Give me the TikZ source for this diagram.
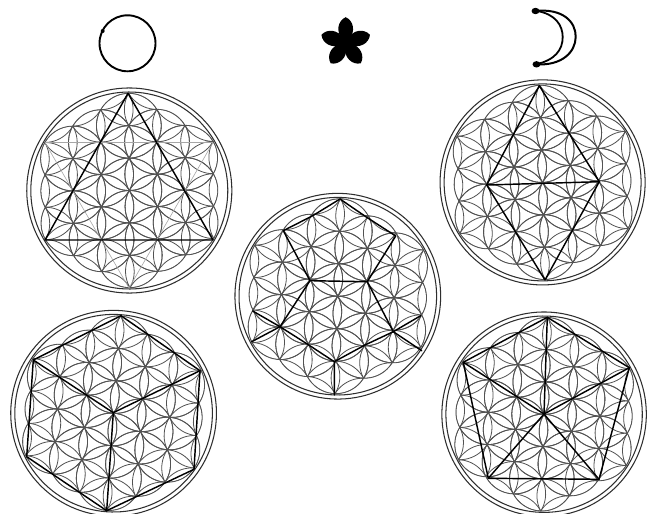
\documentclass[tikz,border=0pt]{standalone}
\definecolor{pat}{gray}{0.32}
\definecolor{ring}{gray}{0.18}
\tikzset{
  patline/.style={draw=pat,line width=0.8pt},
  ringline/.style={draw=ring,line width=1.05pt},
  solid figure/.style={draw=black,line width=1.45pt,line join=round,line cap=round},
  faintline/.style={draw=black!35,line width=0.6pt},
  moonline/.style={draw=black,line width=2pt,line cap=round}
}
% centre x, centre y, clockwise tilt (deg), lattice radius (pt)
\newcommand{\flowerfig}[4]{%
  \begin{scope}[shift={(#1,#2)},rotate=-#3]
    \begin{scope}
      \clip (0,0) circle[radius=#4pt]
        foreach \a in {30,90,...,330}{ (\a:#4pt) circle[radius=#4pt] (\a:2*#4pt) circle[radius=#4pt] }
        foreach \a in {0,60,...,300}{ (\a:1.73205*#4pt) circle[radius=#4pt] };
      \foreach \i in {-4,...,4}{
        \foreach \j in {-4,...,4}{
          \pgfmathtruncatemacro{\hexring}{max(abs(\i),abs(\j),abs(\i+\j))}
          \ifnum\hexring>4\relax\else
            \draw[patline] ({0.866025*\i*#4pt},{(0.5*\i+\j)*#4pt}) circle[radius=#4pt];
          \fi
        }
      }
    \end{scope}
    \draw[patline] (0,0) circle[radius=#4pt];
    \foreach \a in {30,90,...,330}{
      \draw[patline] (\a:#4pt) circle[radius=#4pt];
      \draw[patline] (\a:2*#4pt) circle[radius=#4pt];
    }
    \foreach \a in {0,60,...,300}{
      \draw[patline] (\a:1.73205*#4pt) circle[radius=#4pt];
    }
    \draw[ringline] (0,0) circle[radius=3.165*#4pt];
    \draw[ringline] (0,0) circle[radius=3.04*#4pt];
  \end{scope}%
}
\begin{document}
\begin{tikzpicture}[x=1pt,y=-1pt]
\useasboundingbox (0,0) rectangle (651,514);
\clip (0,0) rectangle (651,514);
\fill[white] (0,0) rectangle (651,514);

% top symbols
\draw[moonline,line width=1.9pt] (127.5,43.3) circle[radius=28pt];
\fill (102.7,31) circle[radius=2pt];
\begin{scope}[shift={(345.7,42.7)}]
  \foreach \a in {0,72,144,216,288}{
    \fill[black,rotate=\a] (-3.5,-4) .. controls (-10,-11) and (-8,-22) .. (0,-25.5)
      .. controls (8,-22) and (10,-11) .. (3.5,-4) -- cycle;
  }
  \fill[black] (0,0) circle[radius=9.5pt];
\end{scope}
\draw[moonline] (535,11) .. controls (563,8) and (576,22) .. (575.7,37) .. controls (575.5,52) and (562,66) .. (536,64.3);
\draw[moonline,line width=1.8pt] (537,11) .. controls (555,14) and (562.7,25) .. (562.7,37) .. controls (562.7,50) and (555,60) .. (536,64.3);
\fill (535.5,11) ellipse[x radius=4pt,y radius=3.2pt];
\fill (536.5,64.3) ellipse[x radius=4pt,y radius=3.2pt];

% A: triangle
\flowerfig{129.3}{190.5}{-0.4}{32.4}
\draw[faintline,line width=0.9pt] (45,142.5) -- (213,142.5);
\draw[faintline] (45,142.5) -- (129,288) -- (213,142.5);
\draw[solid figure] (128,93.3) -- (45,240) -- (213,240) -- cycle;

% E: two triangles
\flowerfig{542.6}{182.4}{-1.67}{32.4}
\draw[solid figure] (539.3,85.7) -- (486.7,185) -- (545,280) -- (599.3,181.7) -- cycle;
\draw[solid figure] (486.7,185) -- (599.3,181.7);

% B: net of five
\flowerfig{337.8}{296.2}{1.65}{32.5}
\draw[solid figure] (340,199) -- (312.7,215.7) -- (283.3,230.7) -- (310,280.7) -- (367.3,281.7) -- (395.7,236) -- (366.7,217.3) -- cycle;
\draw[solid figure] (310,280.7) -- (280,326.7) -- (251.7,341.7);
\draw[solid figure] (252.7,311) -- (280,326.7) -- (307.7,344.3) -- (334.3,361.7) -- (334.3,395);
\draw[solid figure] (334.3,361.7) -- (365,345) -- (393.3,331.7) -- (420.7,315.7);
\draw[solid figure] (367.3,281.7) -- (393.3,331.7) -- (421.7,350.7);

% C: cube
\flowerfig{113.6}{413.2}{4.2}{32.5}
\draw[solid figure] (121,315.7) -- (33.3,360) -- (26.7,456.7) -- (106.7,510.7) -- (194,469.3) -- (200,370.7) -- cycle;
\draw[solid figure] (33.3,360) -- (113.3,412.7) -- (200,370.7);
\draw[solid figure] (113.3,412.7) -- (106.7,510.7);

% D: pentagon
\flowerfig{544.1}{414.2}{2}{32.3}
\draw[solid figure] (547.3,317.3) -- (463.3,362.3) -- (488.3,478.3) -- (599,479.3) -- (629.3,367.7) -- cycle;
\draw[solid figure] (463.3,362.3) -- (544,414) -- (629.3,367.7);
\draw[solid figure] (547.3,317.3) -- (544,414);
\draw[solid figure] (488.3,478.3) -- (544,414) -- (599,479.3);
\end{tikzpicture}
\end{document}
